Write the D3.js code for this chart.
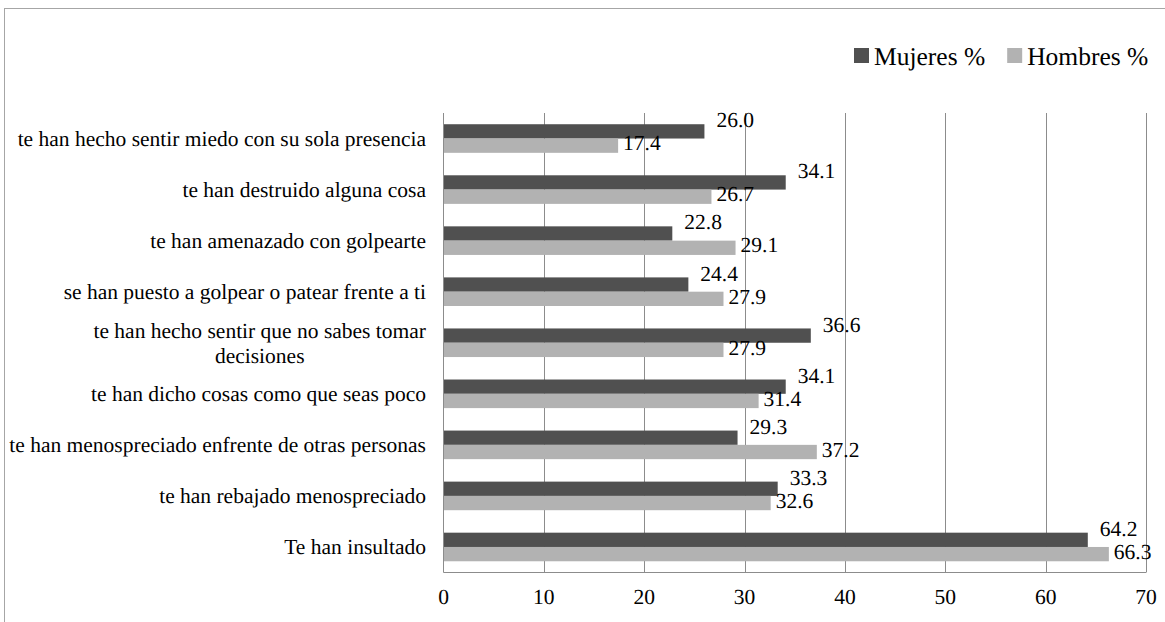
<!DOCTYPE html>
<html>
<head>
<meta charset="utf-8">
<script src="https://cdn.jsdelivr.net/npm/d3@7"></script>
<style>
  html, body { margin: 0; padding: 0; background: #fff; }
  svg { display: block; text-rendering: geometricPrecision; }
</style>
</head>
<body>
<svg id="chart" width="1165" height="622"></svg>
<script>
// Survey items, listed top to bottom
const categories = [
  "te han hecho sentir miedo con su sola presencia",
  "te han destruido alguna cosa",
  "te han amenazado con golpearte",
  "se han puesto a golpear o patear frente a ti",
  "te han hecho sentir que no sabes tomar decisiones",
  "te han dicho cosas como que seas poco",
  "te han menospreciado enfrente de otras personas",
  "te han rebajado menospreciado",
  "Te han insultado"
];
// Category labels that break onto two lines
const labelLines = {
  "te han hecho sentir que no sabes tomar decisiones": ["te han hecho sentir que no sabes tomar", "decisiones"]
};
const seriesNames = ["Mujeres %", "Hombres %"];
const mujeres = [26.0, 34.1, 22.8, 24.4, 36.6, 34.1, 29.3, 33.3, 64.2];
const hombres = [17.4, 26.7, 29.1, 27.9, 27.9, 31.4, 37.2, 32.6, 66.3];
const xTicks = [0, 10, 20, 30, 40, 50, 60, 70];
const colors = ["#505050", "#b2b2b2"];

const FONT = '"Liberation Serif", "Times New Roman", serif';
const FS = 21.5;
const svg = d3.select("#chart").style("font-family", FONT);
const plot = { left: 443.5, right: 1146, top: 113, bottom: 572.5 };

// outer frame
svg.append("rect")
  .attr("x", 4.5).attr("y", 8.5)
  .attr("width", 1300).attr("height", 800)
  .attr("fill", "none").attr("stroke", "#a6a6a6").attr("stroke-width", 1);

const x = d3.scaleLinear().domain([0, 70]).range([plot.left, plot.right]);
const y = d3.scaleBand().domain(categories)
  .range([plot.top, plot.bottom])
  .paddingInner(0.44).paddingOuter(0.22);
const ySub = d3.scaleBand().domain(seriesNames).range([0, y.bandwidth()]);

// vertical gridlines
svg.append("g").selectAll("line")
  .data(xTicks.filter(t => t > 0))
  .join("line")
  .attr("x1", d => Math.round(x(d)) + 0.5).attr("x2", d => Math.round(x(d)) + 0.5)
  .attr("y1", plot.top).attr("y2", plot.bottom)
  .attr("stroke", "#8c8c8c").attr("stroke-width", 1);

// bars
const rows = categories.map((c, i) => ({ cat: c, values: [mujeres[i], hombres[i]] }));
const groups = svg.append("g").selectAll("g")
  .data(rows).join("g")
  .attr("transform", d => `translate(0,${y(d.cat)})`);

groups.selectAll("rect")
  .data(d => d.values.map((v, k) => ({ v, k })))
  .join("rect")
  .attr("x", x(0))
  .attr("y", d => ySub(seriesNames[d.k]))
  .attr("width", d => x(d.v) - x(0))
  .attr("height", ySub.bandwidth())
  .attr("fill", d => colors[d.k]);

// value labels
groups.selectAll("text")
  .data(d => d.values.map((v, k) => ({ v, k })))
  .join("text")
  .style("font-family", FONT)
  .attr("x", d => x(d.v) + (d.k === 0 ? 12 : 5))
  .attr("y", d => d.k === 0 ? ySub.bandwidth() / 2 - 4 : ySub.bandwidth() / 2 + 19)
  .attr("font-size", FS)
  .attr("fill", "#000")
  .text(d => d.v.toFixed(1));

// axes lines
svg.append("line")
  .attr("x1", plot.left).attr("x2", plot.left)
  .attr("y1", plot.top).attr("y2", plot.bottom)
  .attr("stroke", "#8c8c8c");
svg.append("line")
  .attr("x1", plot.left).attr("x2", plot.right)
  .attr("y1", plot.bottom).attr("y2", plot.bottom)
  .attr("stroke", "#8c8c8c");

// x tick labels
svg.append("g").selectAll("text")
  .data(xTicks).join("text")
  .style("font-family", FONT)
  .attr("x", d => x(d))
  .attr("y", 604)
  .attr("text-anchor", "middle")
  .attr("font-size", FS)
  .text(d => d);

// category labels
const catG = svg.append("g");
categories.forEach(c => {
  const cy = y(c) + y.bandwidth() / 2;
  const lines = labelLines[c];
  if (!lines) {
    catG.append("text")
      .style("font-family", FONT)
      .attr("x", 426).attr("y", cy).attr("dy", "0.35em")
      .attr("text-anchor", "end").attr("font-size", FS)
      .text(c);
  } else {
    const first = catG.append("text")
      .style("font-family", FONT)
      .attr("x", 426).attr("y", cy - 12.5).attr("dy", "0.35em")
      .attr("text-anchor", "end").attr("font-size", FS)
      .text(lines[0]);
    const w = first.node().getComputedTextLength();
    catG.append("text")
      .style("font-family", FONT)
      .attr("x", 426 - w / 2).attr("y", cy + 12.5).attr("dy", "0.35em")
      .attr("text-anchor", "middle").attr("font-size", FS)
      .text(lines[1]);
  }
});

// legend
const legend = svg.append("g").attr("transform", "translate(854,48)");
let lx = 0;
seriesNames.forEach((name, k) => {
  legend.append("rect")
    .attr("x", lx).attr("y", 0).attr("width", 15).attr("height", 15)
    .attr("fill", colors[k]);
  const t = legend.append("text")
    .style("font-family", FONT)
    .attr("x", lx + 20).attr("y", 17)
    .attr("font-size", 25.5)
    .text(name);
  lx += 20 + t.node().getComputedTextLength() + 22;
});
</script>
</body>
</html>
